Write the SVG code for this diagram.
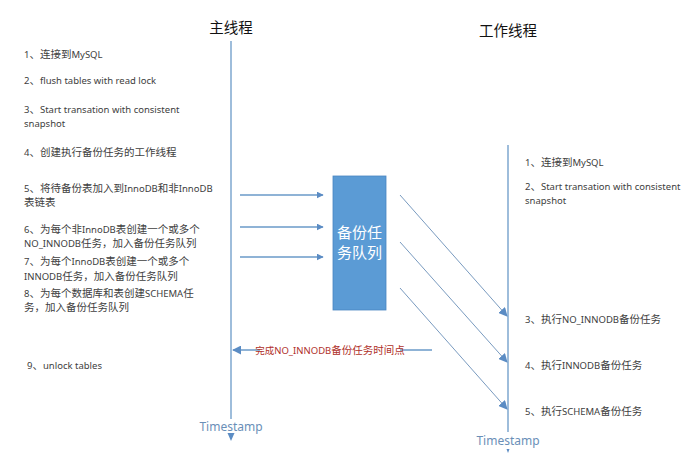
<svg xmlns="http://www.w3.org/2000/svg" width="690" height="468" viewBox="0 0 690 468">
<style>
.t{font-family:"Noto Sans","Noto Sans CJK SC",sans-serif;font-size:9.5px;fill:#404040}
.c{font-family:"Noto Sans CJK SC",sans-serif;font-size:10.5px}
.h{font-family:"Noto Sans CJK SC",sans-serif;font-size:14.5px;fill:#111}
.ln{stroke:#6a9ac8;stroke-width:1.3;fill:none}
.dg{stroke:#6a8fb8;stroke-width:0.9;fill:none}
.ts{font-family:"Noto Sans",sans-serif;font-size:12px;fill:#6a8fb8}
</style>
<defs>
<marker id="ah" viewBox="0 0 10 10" refX="9" refY="5" markerWidth="7" markerHeight="7" markerUnits="userSpaceOnUse" orient="auto"><path d="M0,0 L10,5 L0,10 z" fill="#5b8cc4"/></marker>
<marker id="ah2" viewBox="0 0 10 10" refX="9" refY="5" markerWidth="9" markerHeight="9" markerUnits="userSpaceOnUse" orient="auto"><path d="M0,0 L10,5 L0,10 z" fill="#5b8cc4"/></marker>
</defs>
<rect width="690" height="468" fill="#fff"/>
<g id="main-thread">
<text class="h" x="231" y="33" text-anchor="middle">主线程</text>
<text class="ts" x="231" y="431" text-anchor="middle">Timestamp</text>
<path d="M227.5,433 L234.5,433 L231,441 z" fill="#5b8cc4"/>
</g>
<g id="worker-thread">
<text class="h" x="508" y="36" text-anchor="middle">工作线程</text>
<text class="ts" x="508" y="445" text-anchor="middle">Timestamp</text>
<path d="M506.5,449 L509.5,449 L508,453 z" fill="#5b8cc4"/>
</g>
<g id="main-steps">
<text class="t" x="24" y="58">1<tspan class="c">、连接到</tspan>MySQL</text>
<text class="t" x="24" y="84">2<tspan class="c">、</tspan>flush tables with read lock</text>
<text class="t" x="24" y="113">3<tspan class="c">、</tspan>Start transation with consistent</text>
<text class="t" x="24" y="127">snapshot</text>
<text class="t" x="24" y="156">4<tspan class="c">、创建执行备份任务的工作线程</tspan></text>
<text class="t" x="24" y="192">5<tspan class="c">、将待备份表加入到</tspan>InnoDB<tspan class="c">和非</tspan>InnoDB</text>
<text class="t" x="24" y="206"><tspan class="c">表链表</tspan></text>
<text class="t" x="24" y="233">6<tspan class="c">、为每个非</tspan>InnoDB<tspan class="c">表创建一个或多个</tspan></text>
<text class="t" x="24" y="247">NO_INNODB<tspan class="c">任务，加入备份任务队列</tspan></text>
<text class="t" x="24" y="265">7<tspan class="c">、为每个</tspan>InnoDB<tspan class="c">表创建一个或多个</tspan></text>
<text class="t" x="24" y="280">INNODB<tspan class="c">任务，加入备份任务队列</tspan></text>
<text class="t" x="24" y="297">8<tspan class="c">、为每个数据库和表创建</tspan>SCHEMA<tspan class="c">任</tspan></text>
<text class="t" x="24" y="311"><tspan class="c">务，加入备份任务队列</tspan></text>
<text class="t" x="27" y="369">9<tspan class="c">、</tspan>unlock tables</text>
</g>
<g id="worker-steps">
<text class="t" x="525" y="166">1<tspan class="c">、连接到</tspan>MySQL</text>
<text class="t" x="525" y="190">2<tspan class="c">、</tspan>Start transation with consistent</text>
<text class="t" x="525" y="204">snapshot</text>
<text class="t" x="525" y="323">3<tspan class="c">、执行</tspan>NO_INNODB<tspan class="c">备份任务</tspan></text>
<text class="t" x="525" y="369">4<tspan class="c">、执行</tspan>INNODB<tspan class="c">备份任务</tspan></text>
<text class="t" x="525" y="415">5<tspan class="c">、执行</tspan>SCHEMA<tspan class="c">备份任务</tspan></text>
</g>
<g id="queue">
<rect x="333" y="176" width="53" height="134" fill="#5b9bd5" stroke="#4a86c0" stroke-width="0.8"/>
<text x="359.5" y="238" text-anchor="middle" font-family="Noto Sans CJK SC,sans-serif" font-size="15" fill="#fff">备份任</text>
<text x="359.5" y="258" text-anchor="middle" font-family="Noto Sans CJK SC,sans-serif" font-size="15" fill="#fff">务队列</text>
</g>
<g id="connectors">
<line class="ln" x1="231" y1="41" x2="231" y2="419"/>
<line class="ln" x1="508" y1="145" x2="508" y2="432"/>
<line class="ln" x1="240" y1="195" x2="323" y2="195" marker-end="url(#ah)"/>
<line class="ln" x1="240" y1="227" x2="323" y2="227" marker-end="url(#ah)"/>
<line class="ln" x1="240" y1="257" x2="323" y2="257" marker-end="url(#ah)"/>
<line class="dg" x1="400" y1="195" x2="507" y2="316" marker-end="url(#ah2)"/>
<line class="dg" x1="400" y1="242" x2="507" y2="362" marker-end="url(#ah2)"/>
<line class="dg" x1="400" y1="288" x2="507" y2="409" marker-end="url(#ah2)"/>
<line class="ln" x1="432" y1="350" x2="233" y2="350" marker-end="url(#ah2)"/>
<rect x="260" y="343" width="140" height="14" fill="#fff"/>
<text x="330" y="354" text-anchor="middle" font-family="Noto Sans,Noto Sans CJK SC,sans-serif" font-size="9.5" fill="#b0302a">完成NO_INNODB<tspan font-size="10.5">备份任务时间点</tspan></text>
</g>
</svg>
